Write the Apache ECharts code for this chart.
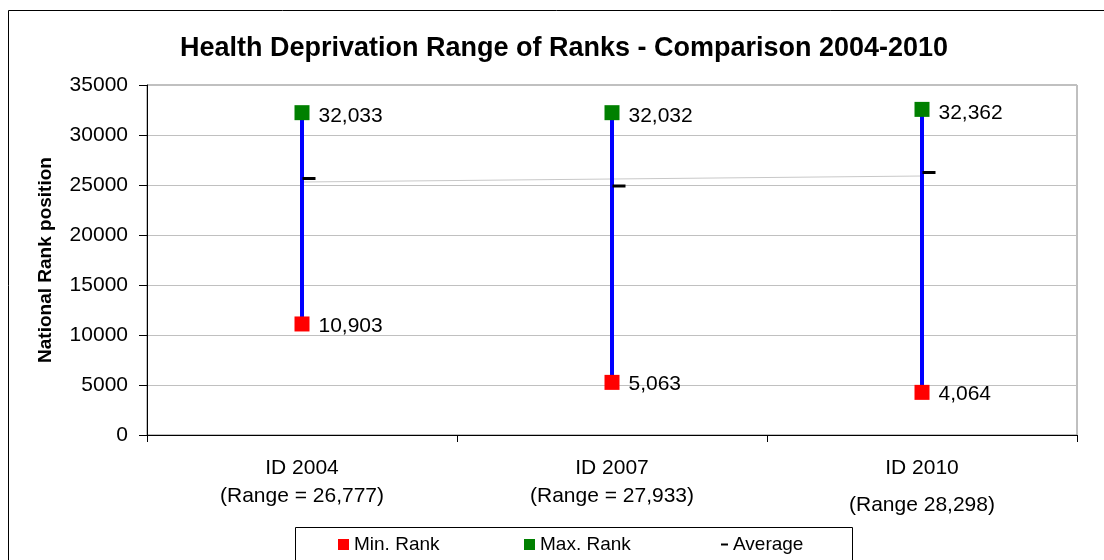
<!DOCTYPE html>
<html>
<head>
<meta charset="utf-8">
<script src="https://cdn.jsdelivr.net/npm/echarts@6/dist/echarts.min.js"></script>
<style>
  html, body { margin: 0; padding: 0; background: #fff; }
  #main { width: 1104px; height: 560px; }
</style>
</head>
<body>
<div id="main"></div>
<script>
// data
var categories = ['ID 2004', 'ID 2007', 'ID 2010'];
var rangeLabels = ['(Range = 26,777)', '(Range = 27,933)', '(Range 28,298)'];
var minRank = [10903, 5063, 4064];
var maxRank = [32033, 32032, 32362];
var average = [25650, 24900, 26250];
var trend = [25300, 25600, 25900];   // grey trend line through the averages

var chart = echarts.init(document.getElementById('main'));
var font = 'Liberation Sans, Arial, sans-serif';

function fmt(v) { return v.toLocaleString('en-US'); }

var legendText = { fontSize: 19, color: '#000', fontFamily: font };

var option = {
    animation: false,
    textStyle: { fontFamily: font },
    title: {
        text: 'Health Deprivation Range of Ranks - Comparison 2004-2010',
        left: 559,
        textAlign: 'center',
        top: 30,
        textStyle: { fontSize: 27, fontWeight: 'bold', color: '#000', fontFamily: font }
    },
    // one legend per entry so each icon can have its own size
    legend: [
        { data: ['Min. Rank'], left: 333, top: 530, itemWidth: 11, itemHeight: 11, itemGap: 5,
          icon: 'rect', textStyle: legendText },
        { data: ['Max. Rank'], left: 519, top: 530, itemWidth: 11, itemHeight: 11, itemGap: 5,
          icon: 'rect', textStyle: legendText },
        { data: ['Average'], left: 716, top: 530, itemWidth: 7, itemHeight: 2, itemGap: 4,
          icon: 'rect', textStyle: legendText }
    ],
    graphic: [
        // outer chart frame
        { type: 'rect', shape: { x: 8.5, y: 10.5, width: 1200, height: 700 },
          style: { fill: 'none', stroke: '#000', lineWidth: 1 }, silent: true, z: -1 },
        // legend box
        { type: 'rect', shape: { x: 295.5, y: 527.5, width: 557, height: 60 },
          style: { fill: 'none', stroke: '#000', lineWidth: 1 }, silent: true, z: -1 }
    ],
    grid: {
        left: 147, right: 27, top: 85, bottom: 125,
        show: true, borderColor: '#808080', borderWidth: 1, backgroundColor: 'transparent'
    },
    xAxis: {
        type: 'category',
        data: categories,
        boundaryGap: true,
        axisLine: { lineStyle: { color: '#000', width: 1 } },
        axisTick: { show: true, length: 7, lineStyle: { color: '#000' } },
        axisLabel: {
            margin: 19,
            interval: 0,
            formatter: function (v, i) {
                return '{a|' + v + '}\n' + (i === 2 ? '{c|' : '{b|') + rangeLabels[i] + '}';
            },
            rich: {
                a: { fontSize: 21, lineHeight: 28, color: '#000', fontFamily: font },
                b: { fontSize: 21, lineHeight: 28, color: '#000', fontFamily: font },
                c: { fontSize: 21, lineHeight: 34, color: '#000', fontFamily: font, verticalAlign: 'bottom' }
            }
        },
        splitLine: { show: false }
    },
    yAxis: {
        type: 'value',
        min: 0, max: 35000, interval: 5000,
        name: 'National Rank position',
        nameLocation: 'middle',
        nameGap: 92,
        nameTextStyle: { fontSize: 19, fontWeight: 'bold', color: '#000', fontFamily: font },
        axisLine: { show: true, lineStyle: { color: '#000', width: 1 } },
        axisTick: { show: true, length: 8, lineStyle: { color: '#000' } },
        axisLabel: {
            fontSize: 21, color: '#000', margin: 19, fontFamily: font,
            formatter: function (v) { return String(v); }
        },
        splitLine: { lineStyle: { color: '#c0c0c0', width: 1 } }
    },
    series: [
        {
            name: 'Trend',
            type: 'line',
            data: trend,
            symbol: 'none',
            lineStyle: { color: '#c8c8c8', width: 1 },
            z: 1,
            silent: true
        },
        {
            name: 'Range',
            type: 'custom',
            data: minRank.map(function (v, i) { return [i, v, maxRank[i]]; }),
            renderItem: function (params, api) {
                var p1 = api.coord([api.value(0), api.value(1)]);
                var p2 = api.coord([api.value(0), api.value(2)]);
                return {
                    type: 'line',
                    shape: { x1: p1[0], y1: p1[1], x2: p2[0], y2: p2[1] },
                    style: { stroke: '#0000ff', lineWidth: 4 }
                };
            },
            z: 2
        },
        {
            name: 'Average',
            type: 'scatter',
            data: average,
            symbol: 'rect',
            symbolSize: [13, 3],
            symbolOffset: [7, 0],
            itemStyle: { color: '#000', opacity: 1 },
            z: 3
        },
        {
            name: 'Min. Rank',
            type: 'scatter',
            data: minRank,
            symbol: 'rect',
            symbolSize: 15,
            symbolOffset: [0, -2],
            itemStyle: { color: '#ff0000', opacity: 1 },
            label: {
                show: true, position: 'right', distance: 9, offset: [0, 2],
                fontSize: 21, color: '#000', fontFamily: font,
                formatter: function (p) { return fmt(p.value); }
            },
            z: 4
        },
        {
            name: 'Max. Rank',
            type: 'scatter',
            data: maxRank,
            symbol: 'rect',
            symbolSize: 15,
            symbolOffset: [0, -2],
            itemStyle: { color: '#008000', opacity: 1 },
            label: {
                show: true, position: 'right', distance: 9, offset: [0, 4],
                fontSize: 21, color: '#000', fontFamily: font,
                formatter: function (p) { return fmt(p.value); }
            },
            z: 4
        }
    ]
};

chart.setOption(option);
</script>
</body>
</html>
